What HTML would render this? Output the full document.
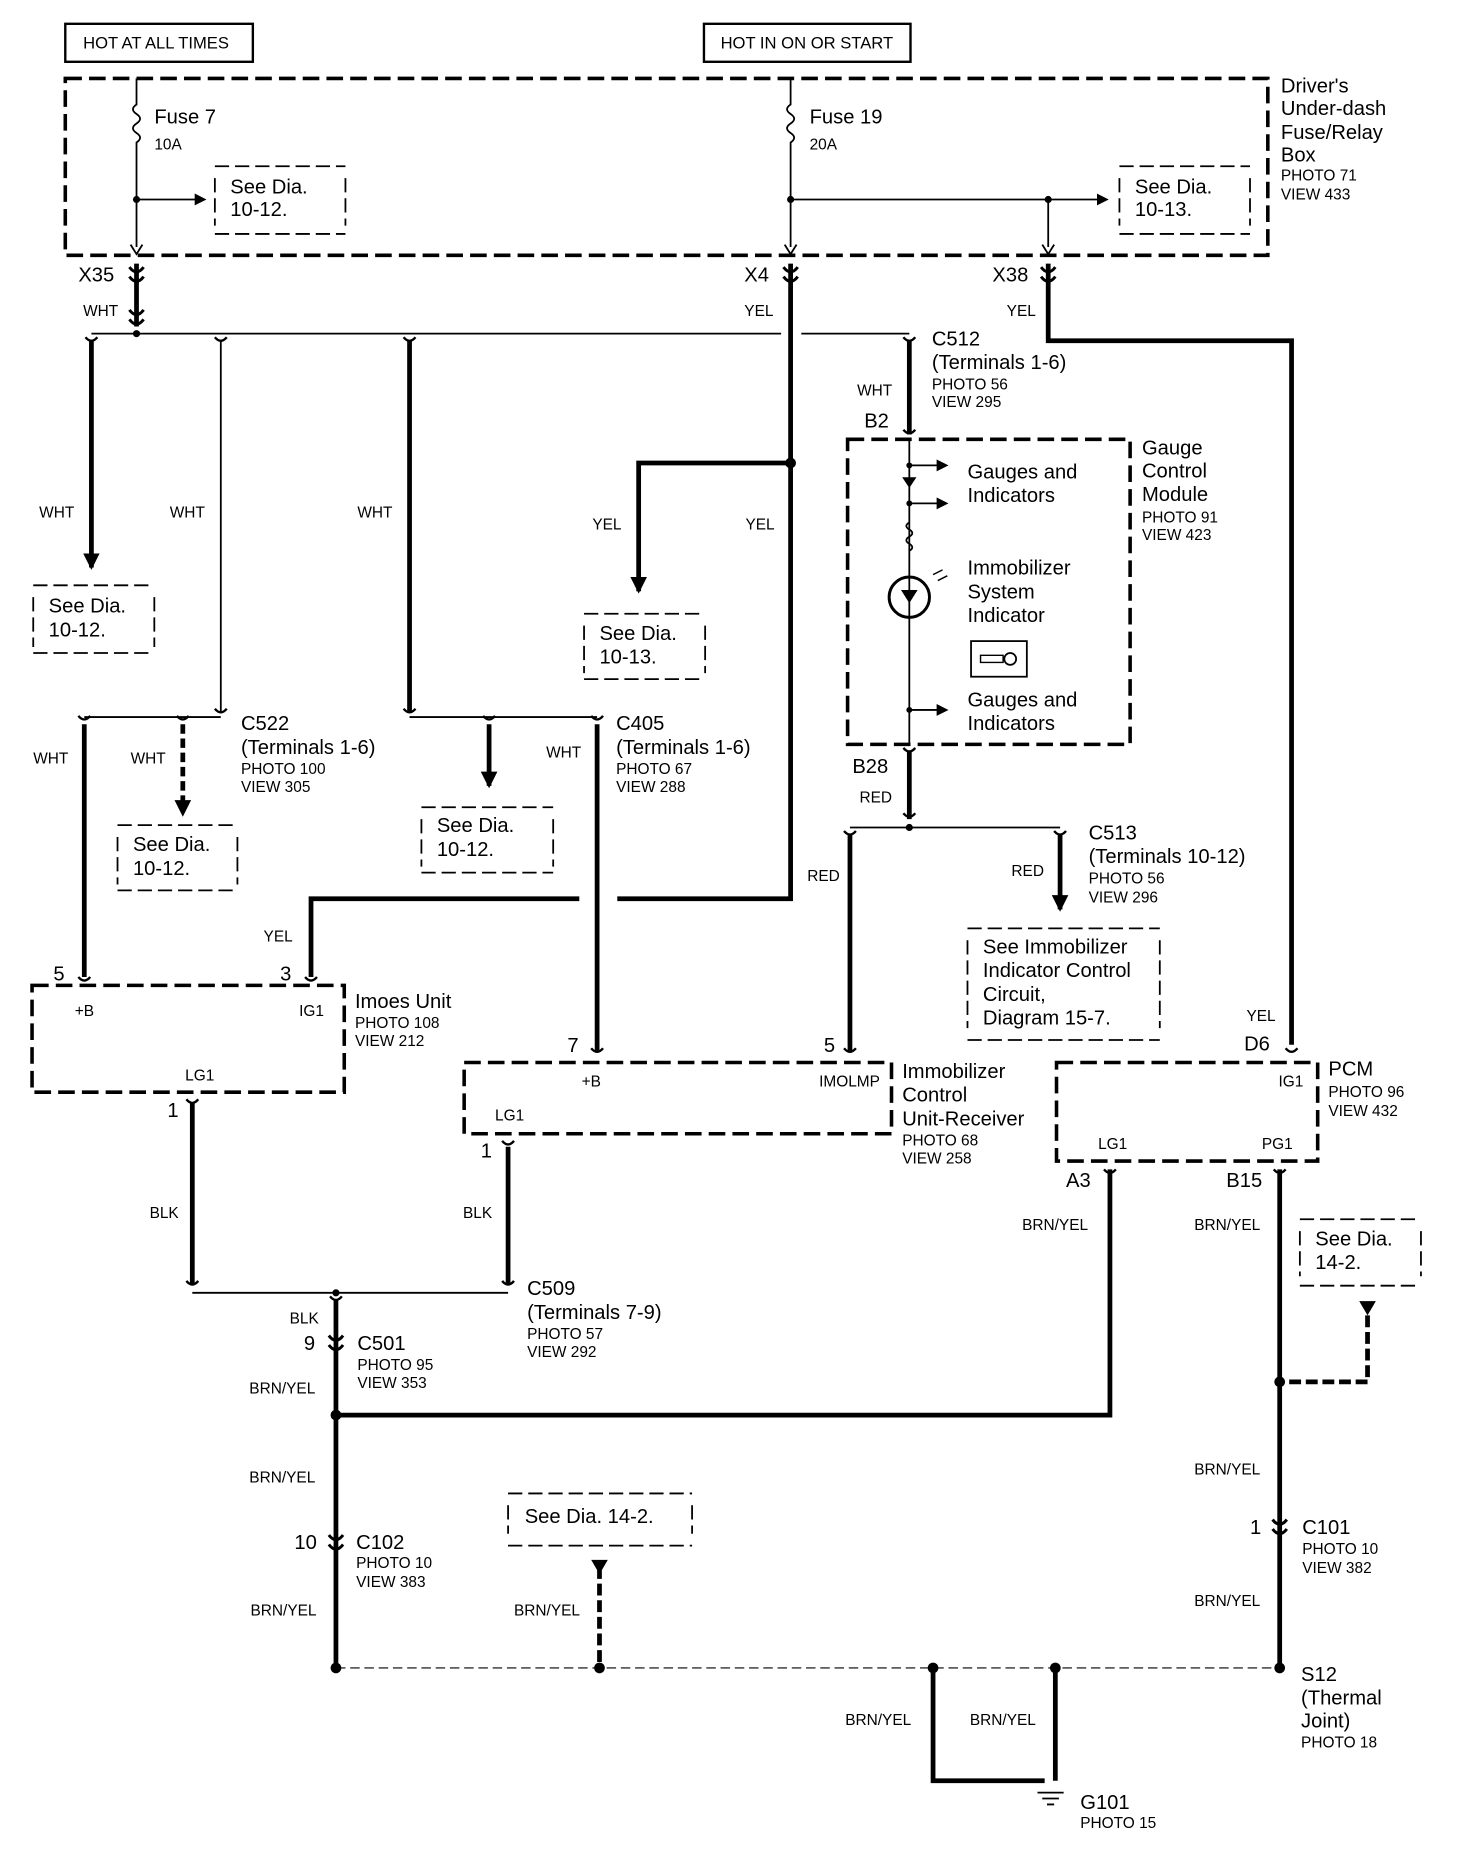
<!DOCTYPE html>
<html><head><meta charset="utf-8"><style>
html,body{margin:0;padding:0;background:#fff}
svg{display:block}
text{font-family:"Liberation Sans",sans-serif;fill:#000}
.b{font-size:17px}.s{font-size:13px}.m{font-size:14px}
</style></head><body>
<svg width="1472" height="1852" viewBox="0 0 1240 1560" xmlns="http://www.w3.org/2000/svg">
<defs>
<marker id="ar" markerWidth="10" markerHeight="10" refX="8" refY="5" orient="auto" markerUnits="userSpaceOnUse"><path d="M0,0 L10,5 L0,10 z"/></marker>
<marker id="arb" markerWidth="14" markerHeight="14" refX="12" refY="7" orient="auto" markerUnits="userSpaceOnUse"><path d="M0,0 L14,7 L0,14 z"/></marker>
<g id="cn"><path d="M-6,-7 Q0,1 6,-7 M-6,1 Q0,9 6,1" fill="none" stroke="#000" stroke-width="2.5"/></g>
<g id="cs"><path d="M-5,-3 Q0,3 5,-3" fill="none" stroke="#000" stroke-width="2"/></g>
</defs>
<g fill="none" stroke="#000">
<rect x="55" y="20" width="158" height="32" stroke-width="2"/>
<rect x="593" y="20" width="174" height="32" stroke-width="2"/>
<rect x="55" y="66" width="1013" height="149" stroke-width="3" stroke-dasharray="14,6"/>
<path d="M115,66 V88 q-6,4 0,8 q6,4 0,8 q-6,4 0,8 q6,4 0,8 V208" stroke-width="1.5"/>
<path d="M115,168 H172" stroke-width="1.5" marker-end="url(#ar)"/>
<path d="M181,140 H291 M181,197 H291 M181,150 V190 M291,150 V190" stroke-width="1.5" stroke-dasharray="12,5"/>
<path d="M666,66 V88 q-6,4 0,8 q6,4 0,8 q-6,4 0,8 q6,4 0,8 V208" stroke-width="1.5"/>
<path d="M666,168 H932" stroke-width="1.5" marker-end="url(#ar)"/>
<path d="M883,168 V208" stroke-width="1.5"/>
<path d="M943,140 H1053 M943,197 H1053 M943,150 V190 M1053,150 V190" stroke-width="1.5" stroke-dasharray="12,5"/>
<path d="M110,206 L115,214 L120,206 M661,206 L666,214 L671,206 M878,206 L883,214 L888,206" stroke-width="1.5"/>
<path d="M115,222 V275" stroke-width="4"/>
<path d="M77,281 H658 M675,281 H766" stroke-width="1.5"/>
<path d="M77,287 V478" stroke-width="4" marker-end="url(#arb)"/>
<path d="M28,493 H130 M28,550 H130 M28,503 V545 M130,503 V545" stroke-width="1.5" stroke-dasharray="12,5"/>
<path d="M186,287 V600" stroke-width="1.5"/>
<path d="M345,287 V600" stroke-width="4"/>
<path d="M71,604 H186" stroke-width="1.5"/>
<path d="M71,610 V823" stroke-width="4"/>
<path d="M154,610 V678" stroke-width="4" stroke-dasharray="8,4"/>
<path d="M154,670 V686" stroke-width="1" marker-end="url(#arb)"/>
<path d="M99,695 H200 M99,750 H200 M99,705 V745 M200,705 V745" stroke-width="1.5" stroke-dasharray="12,5"/>
<path d="M345,604 H503" stroke-width="1.5"/>
<path d="M412,610 V662" stroke-width="4" marker-end="url(#arb)"/>
<path d="M355,680 H466 M355,735 H466 M355,690 V730 M466,690 V730" stroke-width="1.5" stroke-dasharray="12,5"/>
<path d="M503,610 V885" stroke-width="4"/>
<path d="M666,222 V757 H520 M488,757 H262 V823" stroke-width="4"/>
<path d="M666,390 H538 V498" stroke-width="4" marker-end="url(#arb)"/>
<path d="M492,517 H594 M492,572 H594 M492,527 V567 M594,527 V567" stroke-width="1.5" stroke-dasharray="12,5"/>
<path d="M883,222 V287 H1088 V880" stroke-width="4"/>
<path d="M766,287 V366" stroke-width="4"/>
<rect x="714" y="370" width="238" height="257" stroke-width="3" stroke-dasharray="14,6"/>
<path d="M766,370 V627" stroke-width="1.5"/>
<path d="M766,392 H797" stroke-width="1.5" marker-end="url(#ar)"/>
<path d="M766,424 H797" stroke-width="1.5" marker-end="url(#ar)"/>
<path d="M766,598 H797" stroke-width="1.5" marker-end="url(#ar)"/>
<path d="M766,440 q-5,3 0,6 q5,3 0,6 q-5,3 0,6 q5,3 0,6" stroke-width="1.5"/>
<circle cx="766" cy="503" r="17" stroke-width="2.5"/>
<rect x="818" y="540" width="47" height="30" stroke-width="1.5"/>
<path d="M826,552 H845 V558 H826 z" stroke-width="1.2"/>
<circle cx="851" cy="555" r="5" stroke-width="1.5"/>
<path d="M786,484 l8,-4 M790,489 l8,-4" stroke-width="1.2"/>
<path d="M766,633 V690" stroke-width="4"/>
<path d="M716,697 H893" stroke-width="1.5"/>
<path d="M716,703 V885" stroke-width="4"/>
<path d="M893,703 V766" stroke-width="4" marker-end="url(#arb)"/>
<path d="M815,782 H977 M815,876 H977 M815,792 V866 M977,792 V866" stroke-width="1.5" stroke-dasharray="12,5"/>
<rect x="27" y="830" width="263" height="90" stroke-width="3" stroke-dasharray="14,6"/>
<rect x="391" y="895" width="360" height="60" stroke-width="3" stroke-dasharray="14,6"/>
<rect x="890" y="895" width="220" height="83" stroke-width="3" stroke-dasharray="14,6"/>
<path d="M162,929 V1082" stroke-width="4"/>
<path d="M428,966 V1082" stroke-width="4"/>
<path d="M162,1089 H428" stroke-width="1.5"/>
<path d="M283,1095 V1405" stroke-width="4"/>
<path d="M283,1192 H935 V985" stroke-width="4"/>
<path d="M1078,985 V1405" stroke-width="4"/>
<path d="M1095,1027 H1197 M1095,1083 H1197 M1095,1037 V1075 M1197,1037 V1075" stroke-width="1.5" stroke-dasharray="12,5"/>
<path d="M1152,1108 V1164 H1078" stroke-width="4" stroke-dasharray="10,4"/>
<path d="M428,1258 H583 M428,1302 H583 M428,1268 V1292 M583,1268 V1292" stroke-width="1.5" stroke-dasharray="12,5"/>
<path d="M505,1320 V1405" stroke-width="4" stroke-dasharray="10,4"/>
<path d="M283,1405 H1078" stroke-width="1" stroke-dasharray="8,4"/>
<path d="M786,1405 V1500 H880 M889,1405 V1500" stroke-width="4"/>
<path d="M874,1510 H896 M878,1515 H892 M882,1520 H888" stroke-width="1.5"/>
</g>
<g fill="#000">
<path d="M760,402 h12 l-6,9 z"/><path d="M759,497 h14 l-7,11 z"/>
<path d="M1145,1096 h14 l-7,12 z"/><path d="M498,1314 h14 l-7,12 z"/>
<circle cx="115" cy="168" r="3"/><circle cx="666" cy="168" r="3"/><circle cx="883" cy="168" r="3"/>
<circle cx="115" cy="281" r="3"/><circle cx="666" cy="390" r="4.5"/><circle cx="766" cy="697" r="3"/>
<circle cx="283" cy="1089" r="3"/><circle cx="283" cy="1192" r="4.5"/><circle cx="1078" cy="1164" r="4.5"/>
<circle cx="283" cy="1405" r="4.5"/><circle cx="505" cy="1405" r="4.5"/><circle cx="786" cy="1405" r="4.5"/><circle cx="889" cy="1405" r="4.5"/><circle cx="1078" cy="1405" r="4.5"/>
<circle cx="766" cy="392" r="2.5"/><circle cx="766" cy="424" r="2.5"/><circle cx="766" cy="598" r="2.5"/>
</g>
<use href="#cn" x="115" y="232"/><use href="#cn" x="115" y="268"/>
<use href="#cn" x="666" y="232"/><use href="#cn" x="883" y="232"/>
<use href="#cs" x="77" y="287"/><use href="#cs" x="186" y="287"/><use href="#cs" x="345" y="287"/><use href="#cs" x="766" y="287"/>
<use href="#cs" x="766" y="365"/><use href="#cs" x="186" y="600"/><use href="#cs" x="71" y="606"/><use href="#cs" x="154" y="606"/>
<use href="#cs" x="345" y="600"/><use href="#cs" x="412" y="606"/><use href="#cs" x="503" y="606"/>
<use href="#cs" x="766" y="633"/><use href="#cs" x="766" y="688"/><use href="#cs" x="716" y="703"/><use href="#cs" x="893" y="703"/>
<use href="#cs" x="71" y="826"/><use href="#cs" x="262" y="826"/><use href="#cs" x="503" y="886"/><use href="#cs" x="716" y="886"/><use href="#cs" x="1088" y="886"/>
<use href="#cs" x="162" y="929"/><use href="#cs" x="428" y="964"/><use href="#cs" x="935" y="988"/><use href="#cs" x="1078" y="988"/>
<use href="#cs" x="162" y="1082"/><use href="#cs" x="428" y="1082"/><use href="#cs" x="283" y="1095"/>
<use href="#cn" x="283" y="1132"/><use href="#cn" x="283" y="1300"/><use href="#cn" x="1078" y="1287"/>
<text x="70" y="41" class="m">HOT AT ALL TIMES</text>
<text x="607" y="41" class="m">HOT IN ON OR START</text>
<text x="1079" y="78" class="b">Driver's</text><text x="1079" y="97" class="b">Under-dash</text><text x="1079" y="117" class="b">Fuse/Relay</text><text x="1079" y="136" class="b">Box</text>
<text x="1079" y="152" class="s">PHOTO 71</text><text x="1079" y="168" class="s">VIEW 433</text>
<text x="130" y="104" class="b">Fuse 7</text><text x="130" y="126" class="s">10A</text>
<text x="682" y="104" class="b">Fuse 19</text><text x="682" y="126" class="s">20A</text>
<text x="194" y="163" class="b">See Dia.</text><text x="194" y="182" class="b">10-12.</text>
<text x="956" y="163" class="b">See Dia.</text><text x="956" y="182" class="b">10-13.</text>
<text x="66" y="237" class="b">X35</text><text x="627" y="237" class="b">X4</text><text x="836" y="237" class="b">X38</text>
<text x="70" y="266" class="s">WHT</text><text x="627" y="266" class="s">YEL</text><text x="848" y="266" class="s">YEL</text>
<text x="785" y="291" class="b">C512</text><text x="785" y="311" class="b">(Terminals 1-6)</text><text x="785" y="328" class="s">PHOTO 56</text><text x="785" y="343" class="s">VIEW 295</text>
<text x="722" y="333" class="s">WHT</text><text x="728" y="360" class="b">B2</text>
<text x="33" y="436" class="s">WHT</text><text x="143" y="436" class="s">WHT</text><text x="301" y="436" class="s">WHT</text>
<text x="499" y="446" class="s">YEL</text><text x="628" y="446" class="s">YEL</text>
<text x="41" y="516" class="b">See Dia.</text><text x="41" y="536" class="b">10-12.</text>
<text x="505" y="539" class="b">See Dia.</text><text x="505" y="559" class="b">10-13.</text>
<text x="815" y="403" class="b">Gauges and</text><text x="815" y="423" class="b">Indicators</text>
<text x="815" y="484" class="b">Immobilizer</text><text x="815" y="504" class="b">System</text><text x="815" y="524" class="b">Indicator</text>
<text x="815" y="595" class="b">Gauges and</text><text x="815" y="615" class="b">Indicators</text>
<text x="962" y="383" class="b">Gauge</text><text x="962" y="402" class="b">Control</text><text x="962" y="422" class="b">Module</text><text x="962" y="440" class="s">PHOTO 91</text><text x="962" y="455" class="s">VIEW 423</text>
<text x="203" y="615" class="b">C522</text><text x="203" y="635" class="b">(Terminals 1-6)</text><text x="203" y="652" class="s">PHOTO 100</text><text x="203" y="667" class="s">VIEW 305</text>
<text x="28" y="643" class="s">WHT</text><text x="110" y="643" class="s">WHT</text><text x="460" y="638" class="s">WHT</text>
<text x="519" y="615" class="b">C405</text><text x="519" y="635" class="b">(Terminals 1-6)</text><text x="519" y="652" class="s">PHOTO 67</text><text x="519" y="667" class="s">VIEW 288</text>
<text x="112" y="717" class="b">See Dia.</text><text x="112" y="737" class="b">10-12.</text>
<text x="368" y="701" class="b">See Dia.</text><text x="368" y="721" class="b">10-12.</text>
<text x="718" y="651" class="b">B28</text><text x="724" y="676" class="s">RED</text>
<text x="680" y="742" class="s">RED</text><text x="852" y="738" class="s">RED</text>
<text x="917" y="707" class="b">C513</text><text x="917" y="727" class="b">(Terminals 10-12)</text><text x="917" y="744" class="s">PHOTO 56</text><text x="917" y="760" class="s">VIEW 296</text>
<text x="828" y="803" class="b">See Immobilizer</text><text x="828" y="823" class="b">Indicator Control</text><text x="828" y="843" class="b">Circuit,</text><text x="828" y="863" class="b">Diagram 15-7.</text>
<text x="222" y="793" class="s">YEL</text><text x="45" y="826" class="b">5</text><text x="236" y="826" class="b">3</text>
<text x="63" y="856" class="s">+B</text><text x="252" y="856" class="s">IG1</text><text x="156" y="910" class="s">LG1</text>
<text x="299" y="849" class="b">Imoes Unit</text><text x="299" y="866" class="s">PHOTO 108</text><text x="299" y="881" class="s">VIEW 212</text>
<text x="141" y="941" class="b">1</text><text x="126" y="1026" class="s">BLK</text>
<text x="478" y="886" class="b">7</text><text x="694" y="886" class="b">5</text>
<text x="490" y="915" class="s">+B</text><text x="690" y="915" class="s">IMOLMP</text><text x="417" y="944" class="s">LG1</text>
<text x="760" y="908" class="b">Immobilizer</text><text x="760" y="928" class="b">Control</text><text x="760" y="948" class="b">Unit-Receiver</text><text x="760" y="965" class="s">PHOTO 68</text><text x="760" y="980" class="s">VIEW 258</text>
<text x="405" y="975" class="b">1</text><text x="390" y="1026" class="s">BLK</text>
<text x="1050" y="860" class="s">YEL</text><text x="1048" y="885" class="b">D6</text>
<text x="1077" y="915" class="s">IG1</text><text x="925" y="968" class="s">LG1</text><text x="1063" y="968" class="s">PG1</text>
<text x="1119" y="906" class="b">PCM</text><text x="1119" y="924" class="s">PHOTO 96</text><text x="1119" y="940" class="s">VIEW 432</text>
<text x="898" y="1000" class="b">A3</text><text x="1033" y="1000" class="b">B15</text>
<text x="861" y="1036" class="s">BRN/YEL</text><text x="1006" y="1036" class="s">BRN/YEL</text>
<text x="1108" y="1049" class="b">See Dia.</text><text x="1108" y="1069" class="b">14-2.</text>
<text x="444" y="1091" class="b">C509</text><text x="444" y="1111" class="b">(Terminals 7-9)</text><text x="444" y="1128" class="s">PHOTO 57</text><text x="444" y="1143" class="s">VIEW 292</text>
<text x="244" y="1115" class="s">BLK</text><text x="256" y="1137" class="b">9</text>
<text x="301" y="1137" class="b">C501</text><text x="301" y="1154" class="s">PHOTO 95</text><text x="301" y="1169" class="s">VIEW 353</text>
<text x="210" y="1174" class="s">BRN/YEL</text><text x="210" y="1249" class="s">BRN/YEL</text>
<text x="248" y="1305" class="b">10</text><text x="300" y="1305" class="b">C102</text><text x="300" y="1321" class="s">PHOTO 10</text><text x="300" y="1337" class="s">VIEW 383</text>
<text x="211" y="1361" class="s">BRN/YEL</text><text x="433" y="1361" class="s">BRN/YEL</text>
<text x="442" y="1283" class="b">See Dia. 14-2.</text>
<text x="1006" y="1242" class="s">BRN/YEL</text><text x="1006" y="1353" class="s">BRN/YEL</text>
<text x="1053" y="1292" class="b">1</text><text x="1097" y="1292" class="b">C101</text><text x="1097" y="1309" class="s">PHOTO 10</text><text x="1097" y="1325" class="s">VIEW 382</text>
<text x="1096" y="1416" class="b">S12</text><text x="1096" y="1436" class="b">(Thermal</text><text x="1096" y="1455" class="b">Joint)</text><text x="1096" y="1472" class="s">PHOTO 18</text>
<text x="712" y="1453" class="s">BRN/YEL</text><text x="817" y="1453" class="s">BRN/YEL</text>
<text x="910" y="1524" class="b">G101</text><text x="910" y="1540" class="s">PHOTO 15</text>
</svg>
</body></html>
